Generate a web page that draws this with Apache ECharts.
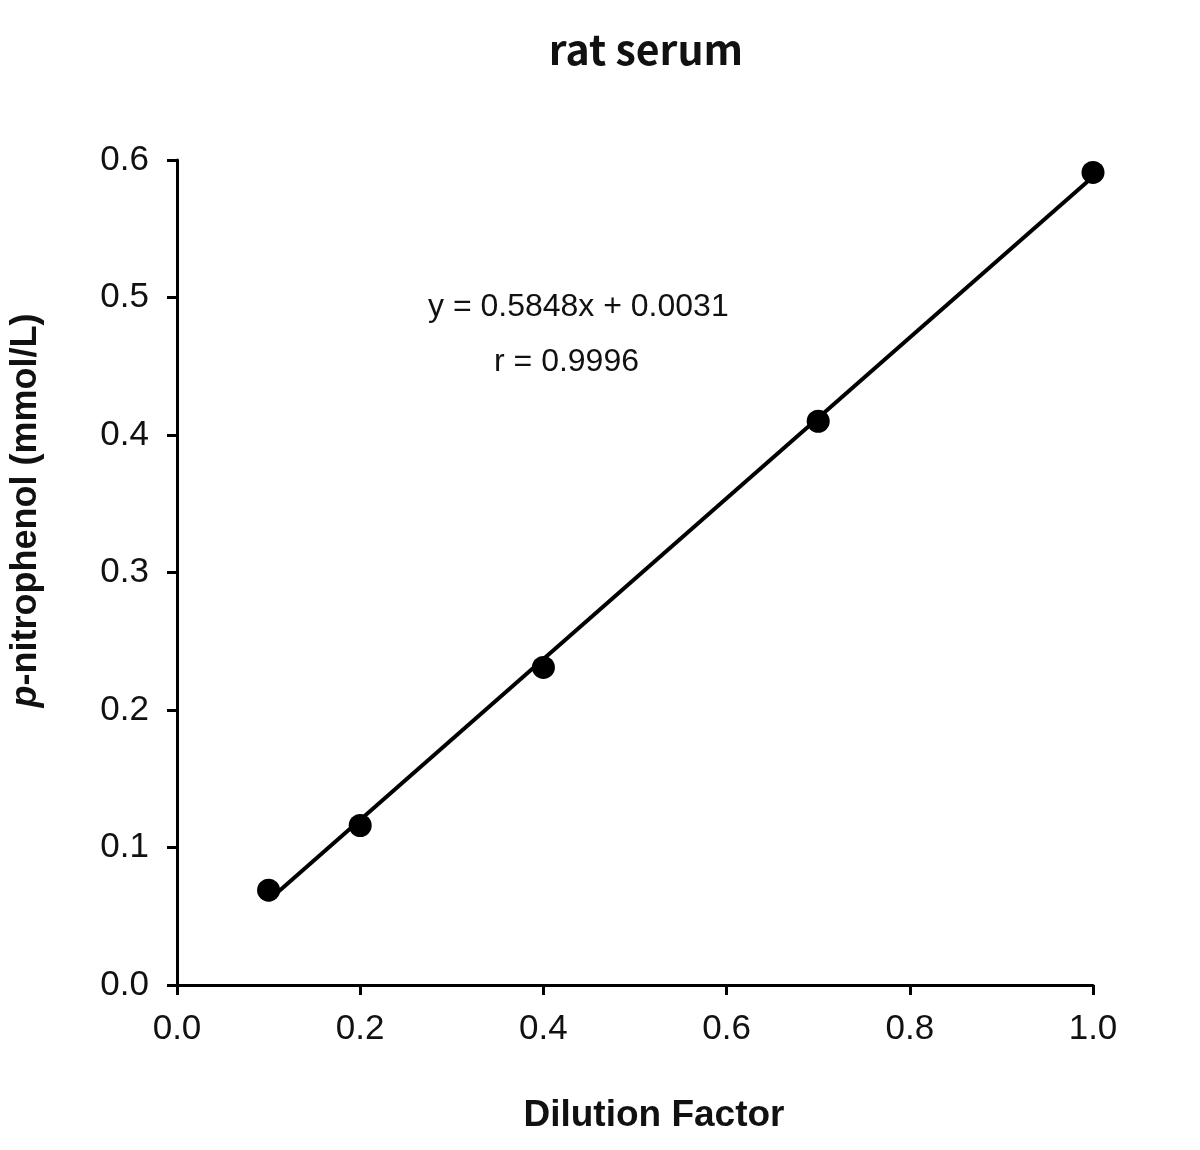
<!DOCTYPE html>
<html>
<head>
<meta charset="utf-8">
<script src="https://cdn.jsdelivr.net/npm/echarts@6/dist/echarts.min.js"></script>
<style>
  html, body { margin: 0; padding: 0; background: #fff; }
  #main { width: 1200px; height: 1150px; }
</style>
</head>
<body>
<div id="main"></div>
<script>
const dilution = [0.1, 0.2, 0.4, 0.7, 1.0];
const nitrophenol = [0.069, 0.116, 0.231, 0.410, 0.591];
const xTicks = [0, 0.2, 0.4, 0.6, 0.8, 1.0];
const yTicks = [0, 0.1, 0.2, 0.3, 0.4, 0.5, 0.6];
const slope = 0.5848;
const intercept = 0.0031;
const rValue = 0.9996;

// linear trend line across the measured range
const fitX = [dilution[0], dilution[dilution.length - 1]];
const fitLine = fitX.map(x => [x, slope * x + intercept]);

const font = 'Liberation Sans, Arial, sans-serif';

const chart = echarts.init(document.getElementById('main'));
chart.setOption({
  animation: false,
  title: {
    text: 'rat serum',
    left: 641,
    top: 24,
    textAlign: 'center',
    textStyle: { fontSize: 41, fontWeight: 'bold', color: '#111', fontFamily: 'Noto Sans CJK JP, Noto Sans, sans-serif' }
  },
  grid: { left: 177, right: 107, top: 160, bottom: 165 },
  xAxis: {
    type: 'value', min: 0, max: 1.0, interval: 0.2,
    name: 'Dilution Factor',
    nameLocation: 'middle',
    nameGap: 112,
    nameTextStyle: { fontSize: 37, fontWeight: 'bold', color: '#111', fontFamily: font, padding: [0, 0, 0, 38] },
    axisLine: { show: true, onZero: false, lineStyle: { color: '#000', width: 3 } },
    axisTick: { show: true, length: 10, inside: false, lineStyle: { color: '#000', width: 3 } },
    axisLabel: { fontSize: 35, color: '#111', margin: 27, fontFamily: font,
      formatter: v => v.toFixed(1) },
    splitLine: { show: false }
  },
  yAxis: {
    type: 'value', min: 0, max: 0.6, interval: 0.1,
    name: '{i|p}-nitrophenol (mmol/L)',
    nameLocation: 'middle',
    nameGap: 133,
    nameTextStyle: { fontSize: 36, fontWeight: 'bold', color: '#111', fontFamily: font, padding: [0, 0, 0, 124],
      rich: { i: { fontSize: 36, fontWeight: 'bold', fontStyle: 'italic', color: '#111', fontFamily: font } } },
    axisLine: { show: true, onZero: false, lineStyle: { color: '#000', width: 3 } },
    axisTick: { show: true, length: 10, inside: false, lineStyle: { color: '#000', width: 3 } },
    axisLabel: { fontSize: 35, color: '#111', margin: 28, fontFamily: font,
      formatter: v => v.toFixed(1) },
    splitLine: { show: false }
  },
  series: [
    {
      type: 'line',
      data: fitLine,
      symbol: 'none',
      lineStyle: { color: '#000', width: 4 },
      z: 2
    },
    {
      type: 'scatter',
      data: dilution.map((x, i) => [x, nitrophenol[i]]),
      symbol: 'circle',
      symbolSize: 23,
      itemStyle: { color: '#000', opacity: 1 },
      z: 3
    }
  ],
  graphic: [
    { type: 'text', left: 428, top: 291,
      style: { text: 'y = ' + slope + 'x + ' + intercept.toFixed(4), fontSize: 32, fill: '#111', fontFamily: font } },
    { type: 'text', left: 494, top: 346,
      style: { text: 'r = ' + rValue, fontSize: 32, fill: '#111', fontFamily: font } }
  ]
});
</script>
</body>
</html>
